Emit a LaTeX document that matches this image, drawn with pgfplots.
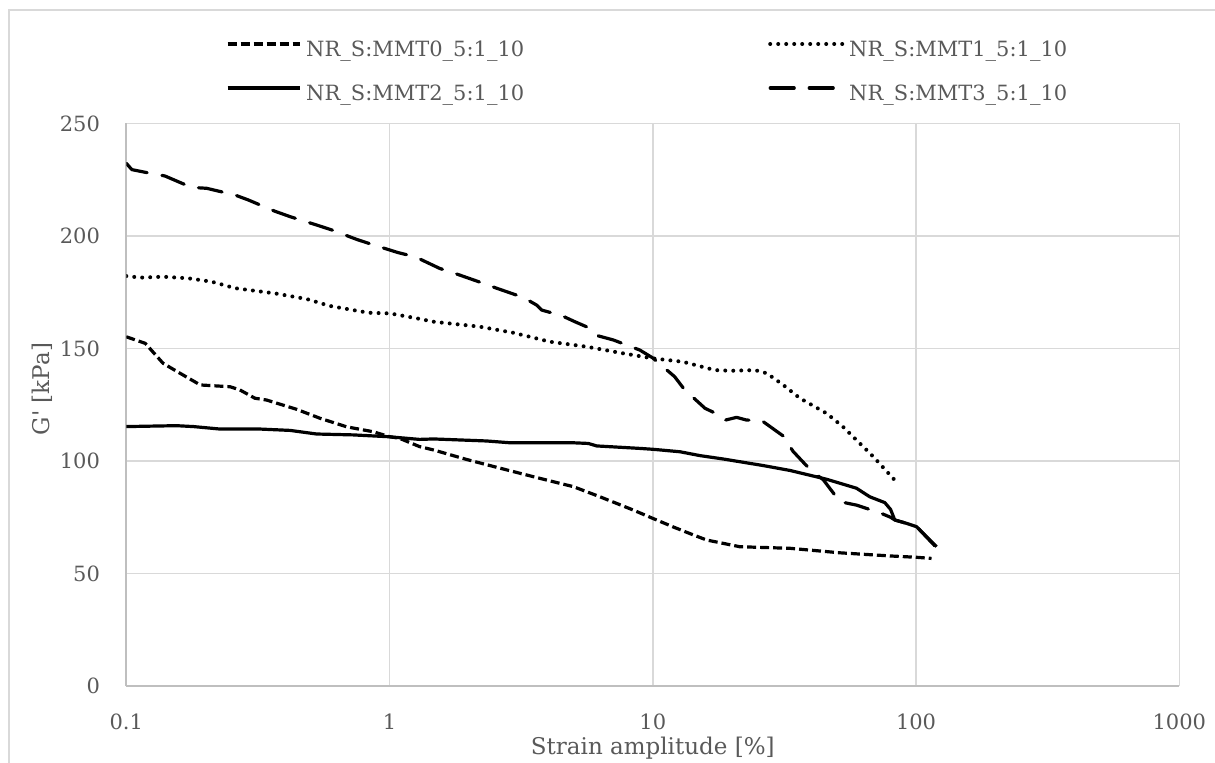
\documentclass[border=0pt]{standalone}
\usepackage{pgfplots}
\pgfplotsset{compat=1.18}
\usepackage{fontspec}
\setmainfont{DejaVu Serif}
\definecolor{txt}{HTML}{595959}
\definecolor{gridc}{HTML}{D9D9D9}
\definecolor{axc}{HTML}{BFBFBF}
\begin{document}
\begin{tikzpicture}
\useasboundingbox (0,0) rectangle (607.5pt,381pt);
\draw[gridc, line width=0.75pt] (4.5pt,-10pt) -- (4.5pt,376pt) -- (640pt,376pt);
\begin{axis}[
  at={(63.15pt,38pt)}, anchor=south west,
  scale only axis, width=526.5pt, height=281.25pt,
  xmode=log, xmin=0.1, xmax=1000, ymin=0, ymax=250,
  xtick={0.1,1,10,100,1000}, xticklabels={0.1,1,10,100,1000},
  ytick={0,50,100,150,200,250}, yticklabels={0,50,100,150,200,250},
  xminorticks=false, yminorticks=false,
  major tick length=0pt,
  axis lines*=left,
  axis line style={draw=axc, line width=1pt, -},
  grid=major, major grid style={draw=gridc, line width=0.75pt},
  every tick label/.append style={font=\fontsize{10.5}{12}\selectfont, text=txt},
  xticklabel style={inner sep=0pt, anchor=north, yshift=-14pt},
  yticklabel style={inner sep=0pt, anchor=east, xshift=-13pt},
  xlabel={Strain amplitude [\%]},
  ylabel={G\textquotesingle\ [kPa]},
  label style={font=\fontsize{11.5}{13}\selectfont, text=txt},
  xlabel style={at={(axis description cs:0.5,0)}, anchor=center, yshift=-31pt},
  ylabel style={at={(axis description cs:-0.0801,0.528)}, anchor=center},
  legend columns=2,
  legend style={at={(axis description cs:0.0947,1.168)}, anchor=north west,
    draw=none, fill=none, inner sep=0pt, outer sep=0pt, row sep=0pt,
    font=\fontsize{10.5}{12}\selectfont, text=txt,
    nodes={inner sep=0pt, text height=14pt, text depth=8pt},
    /tikz/every odd column/.append style={column sep=2.5pt},
    /tikz/every even column/.append style={text width=231pt}},
  legend cell align=left,
  legend image code/.code={\draw[#1] (0pt,3.5pt) -- (36pt,3.5pt);},
  every axis plot/.append style={black, line width=1.6pt, line join=round},
]
\addplot[dash pattern=on 4.5pt off 2pt] coordinates {
(0.1,155.2)(0.118,152.3)(0.138,143.4)(0.160,139)(0.191,133.8)(0.248,133)(0.270,131.6)(0.308,127.9)(0.341,127.1)(0.443,123)(0.544,119)(0.687,115.2)(0.867,113)(1.0,110.8)(1.09,110.1)(1.30,106.4)(1.47,104.9)(1.96,100.7)(2.63,96.8)(3.72,92.3)(4.99,88.6)(6.30,84.1)(8.43,78.2)(10.0,74.5)(11.9,70.8)(14.0,67.5)(16.0,64.9)(21.4,61.9)(33.2,61.2)(51.4,59.2)(79.8,57.8)(100.5,57.2)(114.5,56.7)
};
\addlegendentry{NR\_S:MMT0\_5:1\_10}
\addplot[line width=2pt, line cap=round, dash pattern=on 0pt off 4pt] coordinates {
(0.1,182.2)(0.113,181.5)(0.138,181.9)(0.172,181.2)(0.211,179.7)(0.259,176.8)(0.367,174.5)(0.484,172)(0.594,168.9)(0.830,165.9)(1.003,165.6)(1.27,163.4)(1.47,161.9)(2.20,159.7)(2.95,157)(4.07,153)(5.61,150.8)(7.5,148.1)(10,145.6)(13.0,144.1)(17.2,140.4)(19.9,140.1)(24.4,140.4)(27.1,139)(31.3,133.8)(36.2,127.9)(45.7,121.2)(52.8,115.2)(59.4,109.3)(68.7,102)(83,91.5)
};
\addlegendentry{NR\_S:MMT1\_5:1\_10}
\addplot[solid] coordinates {
(0.1,115.3)(0.155,115.7)(0.180,115.3)(0.227,114.2)(0.322,114.2)(0.419,113.6)(0.528,112)(0.728,111.6)(0.989,110.8)(1.30,109.6)(1.47,109.8)(2.34,108.9)(2.87,108.1)(4.99,108.1)(5.69,107.8)(6.12,106.7)(8.93,105.6)(10.03,105.2)(12.7,104.1)(15.1,102.4)(18.5,100.9)(26.2,98)(33.2,95.8)(45.7,91.9)(59.4,87.9)(66.7,84.1)(76.1,81.5)(80,78.5)(83,73.8)(92,72.3)(100.5,70.8)(119.6,61.9)
};
\addlegendentry{NR\_S:MMT2\_5:1\_10}
\addplot[line cap=round, dash pattern=on 12pt off 7.5pt] coordinates {
(0.1,232.3)(0.105,229.5)(0.123,227.9)(0.140,226.7)(0.177,221.6)(0.202,221.2)(0.259,218.2)(0.291,216)(0.367,211)(0.419,208.6)(0.528,204.9)(0.603,202.7)(0.750,198.5)(0.855,196.3)(1.079,192.6)(1.249,190.8)(1.55,185.6)(1.77,183.4)(2.24,179.2)(2.55,176.8)(3.22,172.7)(3.62,169.3)(3.78,167.1)(4.51,164.6)(5.06,161.9)(5.77,159)(6.21,155.6)(7.08,153.8)(8.93,149.3)(10.0,145.8)(12.1,137.5)(13.2,131.7)(15.8,123.4)(18.2,120)(18.9,118.2)(20.8,119.4)(22.7,118.2)(25.9,118)(31.3,111.1)(34.1,104.3)(40.1,95.5)(44.4,91.7)(51.4,81.9)(59.4,80.4)(72.8,77)(80,75)(83,73.8)(92,72.3)(100.5,70.8)(119.6,61.5)
};
\addlegendentry{NR\_S:MMT3\_5:1\_10}
\end{axis}
\end{tikzpicture}
\end{document}
